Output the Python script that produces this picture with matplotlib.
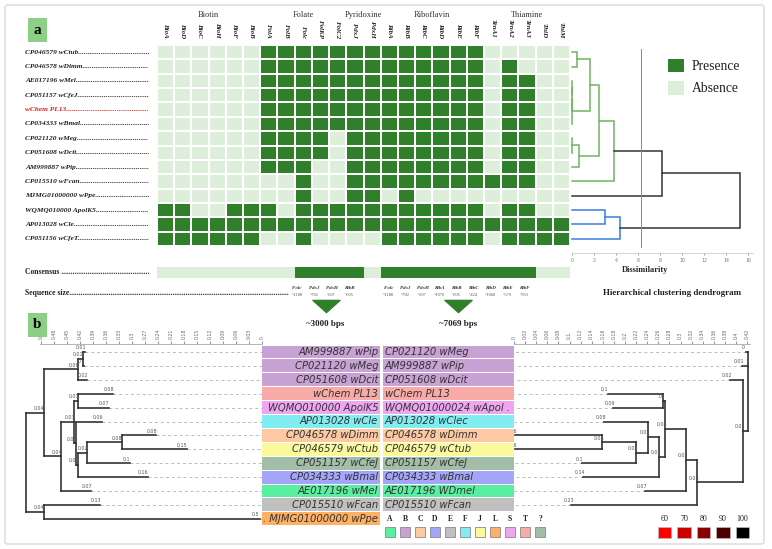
import matplotlib
matplotlib.use("Agg")
import matplotlib.pyplot as plt
import numpy as np
from matplotlib.colors import ListedColormap
from matplotlib.patches import Patch, FancyBboxPatch
from matplotlib.path import Path
import matplotlib.transforms as mtransforms

# ---------------- DATA : panel a ----------------
genes = ["BioA", "BioD", "BioC", "BioH", "BioF", "BioB", "FolA", "FolB", "Folc", "FolKP",
         "FolC2", "PdxJ", "PdxH", "RibA", "RibB", "RibC", "RibD", "RibE", "RibF",
         "TenA1", "TenA2", "TenA3", "ThiD", "ThiM"]
gene_groups = ["Biotin", "Folate", "Pyridoxine", "Riboflavin", "Thiamine"]
group_sizes = [6, 5, 2, 6, 5]
strains = ["CP046579 wCtub", "CP046578 wDimm", "AE017196 wMel", "CP051157 wCfeJ",
           "wChem PL13", "CP034333 wBmal", "CP021120 wMeg", "CP051608 wDcit",
           "AM999887 wPip", "CP015510 wFcan", "MJMG01000000 wPpe",
           "WQMQ010000 ApolK5", "AP013028 wCle", "CP051156 wCfeT"]
presence_rows = [
    "000000" "11111" "11" "111111" "00000",
    "000000" "11111" "11" "111111" "01000",
    "000000" "11111" "11" "111111" "01100",
    "000000" "11111" "11" "111111" "01100",
    "000000" "11111" "11" "111111" "01100",
    "000000" "11111" "11" "111111" "01100",
    "000000" "11110" "11" "111111" "01100",
    "000000" "11110" "11" "111111" "01100",
    "000000" "11100" "11" "111111" "01100",
    "000000" "00100" "11" "111111" "11100",
    "000000" "00100" "11" "010000" "00000",
    "110011" "10111" "11" "111111" "01100",
    "111111" "11111" "11" "111111" "11111",
    "111111" "00100" "00" "111111" "01111",
]
consensus_row = "000000" "00111" "10" "111111" "11100"
seq_genes_1 = ["Folc", "PdxJ", "PdxH", "RibB"]
seq_sizes_1 = ["~1188", "~702", "~607", "~605"]
seq_genes_2 = ["Folc", "PdxJ", "PdxH", "RibA", "RibB", "RibC", "RibD", "RibE", "RibF"]
seq_sizes_2 = ["~1188", "~702", "~607", "~1070", "~605", "~424", "~1068", "~579", "~933"]
block_sizes = ["~3000 bps", "~7069 bps"]
block_centers = [9.8, 17.5]

# hierarchical clustering (leaf ids 0..13 = heatmap rows; new ids from 14)
dendro_merges = [(0, 1, 0.45), (2, 3, 0.0), (15, 4, 0.0), (16, 5, 0.0), (14, 17, 1.67),
                 (6, 7, 0.0), (19, 8, 0.64), (18, 20, 2.48), (21, 9, 3.8), (22, 10, 8.2),
                 (11, 12, 3.0), (24, 13, 4.33), (23, 25, 15.25)]
dendro_colors = ["g"] * 9 + ["k", "b", "b", "k"]
dendro_ticks = [0, 2, 4, 6, 8, 10, 12, 14, 16]
cut_height = 6.3

# ---------------- DATA : panel b ----------------
left_leaves = ["AM999887 wPip", "CP021120 wMeg", "CP051608 wDcit", "wChem PL13",
               "WQMQ010000 ApolK5", "AP013028 wCle", "CP046578 wDimm", "CP046579 wCtub",
               "CP051157 wCfeJ", "CP034333 wBmal", "AE017196 wMel", "CP015510 wFcan",
               ". MJMG01000000 wPpe"]
left_groups = ["B", "B", "B", "T", "S", "F", "C", "J", "?", "D", "A", "E", "L"]
right_leaves = ["CP021120 wMeg", "AM999887 wPip", "CP051608 wDcit", "wChem PL13",
                "WQMQ01000024 wApol .", "AP013028 wClec", "CP046578 wDimm",
                "CP046579 wCtub", "CP051157 wCfeJ", "CP034333 wBmal", "AE017196 WDmel",
                "CP015510 wFcan"]
right_groups = ["B", "B", "B", "T", "S", "F", "C", "J", "?", "D", "A", "E"]
group_letters = ["A", "B", "C", "D", "E", "F", "J", "L", "S", "T", "?"]
group_colors = ["#58f0a0", "#c8a2d4", "#fdc9a2", "#a4a4f8", "#c0c0c0", "#80eef0",
                "#fafa9c", "#ffb062", "#eea6f0", "#f8aaa6", "#a2bea6"]
bootstrap_levels = ["60", "70", "80", "90", "100"]
bootstrap_colors = ["#ff0000", "#cc0000", "#8b0000", "#4a0000", "#000000"]

# trees: leaf = (index, branch length); node = ([children], branch length)
left_tree = ([
    ([([([(0, 0.005), (1, 0.003)], 0.01), (2, 0.02)], 0.08),
      ([([([(3, 0.08), (4, 0.07)], 0.01),
          ([(5, 0.06),
            ([([([(6, 0.08), (7, 0.15)], 0.08), (8, 0.1)], 0.02), (9, 0.16)], 0.005)],
           0.005)], 0.03),
        (10, 0.07)], 0.04)], 0.04),
    ([(11, 0.13), (12, 0.5)], 0.04)], 0.0)
left_root = 0.545
left_ticks = [0.51, 0.48, 0.45, 0.42, 0.39, 0.36, 0.33, 0.30, 0.27, 0.24, 0.21, 0.18,
              0.15, 0.12, 0.09, 0.06, 0.03, 0.0]
left_tick_labels = ["0.5", "0.48", "0.45", "0.42", "0.39", "0.36", "0.33", "0.3", "0.27",
                    "0.24", "0.21", "0.18", "0.15", "0.12", "0.09", "0.06", "0.03", "0"]

right_tree = ([(0, 0.004), (1, 0.011),
               ([(2, 0.023),
                 ([([([([(3, 0.1), (4, 0.09)], 0.003),
                        ([([(5, 0.08),
                            ([([(6, 0.157), (7, 0.157)], 0.061), (8, 0.097)], 0.022)],
                           0.02),
                          (9, 0.138)], 0.01)], 0.038),
                     (10, 0.074)], 0.02),
                   (11, 0.226)], 0.083)], 0.009)], 0.0)
right_root = 0.4216
right_ticks = [round(0.02 * k, 2) for k in range(22)]

# ---------------- FIGURE ----------------
W, H = 772, 549
fig = plt.figure(figsize=(W / 100, H / 100), dpi=100)
SERIF = ["Liberation Serif", "DejaVu Serif"]
SANS = ["DejaVu Sans"]
DARK = "#2f7f2b"
LIGHT = "#ddefda"
GREEN_L = "#70b45f"
BLUE_L = "#3b7de0"
BLACK_L = "#333333"
renderer = fig.canvas.get_renderer()


def box(x0, y0, x1, y1):
    return [x0 / W, 1 - y1 / H, (x1 - x0) / W, (y1 - y0) / H]


def fx(px):
    return px / W


def fy(py):
    return 1 - py / H


def dotted_text(ax, x_px, y, name, end_px, **kw):
    tr = mtransforms.blended_transform_factory(fig.transFigure, ax.transData)
    t = ax.text(fx(x_px), y, name, transform=tr, ha="left", va="center", **kw)
    s = name
    while t.get_window_extent(renderer).x1 < end_px:
        s += "."
        t.set_text(s)
    return t


# outer frame
fig.patches.append(FancyBboxPatch((fx(5), fy(544)), 759 / W, 539 / H,
                                  boxstyle="round,pad=0,rounding_size=0.004",
                                  transform=fig.transFigure, fill=False,
                                  ec="#e2e2e2", lw=1.3))

# ---- heatmap
axh = fig.add_axes(box(157, 45, 570, 246))
M = np.array([[int(c) for c in r] for r in presence_rows])
cm = ListedColormap([LIGHT, DARK])
axh.pcolormesh(np.arange(len(genes) + 1), np.arange(len(strains) + 1), M, cmap=cm,
               vmin=0, vmax=1, edgecolors="white", linewidth=1.1)
axh.set_xlim(0, len(genes))
axh.set_ylim(len(strains), 0)
axh.xaxis.tick_top()
axh.set_xticks(np.arange(len(genes)) + 0.5)
axh.set_xticklabels(genes, rotation=-90, fontsize=5, fontstyle="italic",
                    fontweight="bold", family=SERIF, color="#222")
axh.tick_params(axis="x", length=0, pad=5)
axh.set_yticks([])
for s in axh.spines.values():
    s.set_visible(False)
start = 0
for g, n in zip(gene_groups, group_sizes):
    axh.text(start + n / 2, -2.1, g, ha="center", va="center", fontsize=6,
             family=SERIF, color="#333")
    start += n
for i, name in enumerate(strains):
    dotted_text(axh, 25, i + 0.5, name, 148, fontsize=5.3, fontstyle="italic",
                fontweight="bold", family=SERIF,
                color="#e02020" if name.startswith("wChem") else "#222")

# panel label a
fig.text(fx(37.5), fy(30), "a", ha="center", va="center", fontsize=11,
         fontweight="bold", family=SERIF,
         bbox=dict(boxstyle="square,pad=0.35", fc="#8cd087", ec="none"))

# ---- consensus
axc = fig.add_axes(box(157, 267, 570, 278))
C = np.array([[int(c) for c in consensus_row]])
axc.pcolormesh(np.arange(len(genes) + 1), [0, 1], C, cmap=cm, vmin=0, vmax=1)
axc.set_xlim(0, len(genes))
axc.set_ylim(1, 0)
axc.axis("off")
dotted_text(axc, 25, 0.5, "Consensus ", 148, fontsize=5.5, fontweight="bold",
            family=SERIF, color="#222")
trc = mtransforms.blended_transform_factory(axc.transData, fig.transFigure)
t = fig.text(fx(25), fy(293), "Sequence size", ha="left", va="center", fontsize=5.5,
             fontweight="bold", family=SERIF, color="#222")
s = "Sequence size"
while t.get_window_extent(renderer).x1 < 287:
    s += "."
    t.set_text(s)
for k, (gname, gs) in enumerate(zip(seq_genes_1, seq_sizes_1)):
    axc.text(8.15 + k, fy(288), gname, transform=trc, ha="center", va="center",
             fontsize=3.6, fontstyle="italic", fontweight="bold", family=SERIF, color="#333")
    axc.text(8.15 + k, fy(295.5), gs, transform=trc, ha="center", va="center",
             fontsize=3.2, family=SERIF, color="#555")
for k, (gname, gs) in enumerate(zip(seq_genes_2, seq_sizes_2)):
    axc.text(13.45 + 0.99 * k, fy(288), gname, transform=trc, ha="center", va="center",
             fontsize=3.6, fontstyle="italic", fontweight="bold", family=SERIF, color="#333")
    axc.text(13.45 + 0.99 * k, fy(295.5), gs, transform=trc, ha="center", va="center",
             fontsize=3.2, family=SERIF, color="#555")
tri = Path([(-1, 0.45), (1, 0.45), (0, -0.45), (-1, 0.45)],
           [Path.MOVETO, Path.LINETO, Path.LINETO, Path.CLOSEPOLY])
for xc, lab in zip(block_centers, block_sizes):
    axc.plot([xc], [fy(306)], marker=tri, ms=19.5, color=DARK, mec=DARK,
             transform=trc, clip_on=False)
    axc.text(xc, fy(324), lab, transform=trc, ha="center", va="center", fontsize=6.5,
             fontweight="bold", family=SERIF, color="#222")

# ---- dendrogram
axd = fig.add_axes(box(572, 45, 753, 253))
nleaf = len(strains)
pos = {i: (i + 0.5, 0.0) for i in range(nleaf)}
cmap_lines = {"g": GREEN_L, "b": BLUE_L, "k": BLACK_L}
for k, ((a, b, h), c) in enumerate(zip(dendro_merges, dendro_colors)):
    ya, ha = pos[a]
    yb, hb = pos[b]
    axd.plot([ha, h, h, hb], [ya, ya, yb, yb], color=cmap_lines[c], lw=1.1,
             solid_joinstyle="miter", clip_on=False)
    pos[nleaf + k] = ((ya + yb) / 2, h)
axd.axvline(cut_height, ymin=0.03, ymax=0.98, color="#888", lw=0.7)
axd.set_xlim(0, 16.45)
axd.set_ylim(nleaf + 0.49, 0)
axd.set_yticks([])
axd.set_xticks(dendro_ticks)
axd.tick_params(axis="x", labelsize=3.3, length=1.5, width=0.5, colors="#777", pad=2)
for sname in ["top", "right", "left"]:
    axd.spines[sname].set_visible(False)
axd.spines["bottom"].set_color("#cccccc")
axd.spines["bottom"].set_linewidth(0.6)
fig.text(fx(645), fy(269.5), "Dissimilarity", ha="center", va="center", fontsize=6,
         fontweight="bold", family=SERIF, color="#222")
fig.text(fx(672), fy(293), "Hierarchical clustering dendrogram", ha="center",
         va="center", fontsize=6.5, fontweight="bold", family=SERIF, color="#222")
fig.legend(handles=[Patch(fc=DARK, ec="none", label="Presence"),
                    Patch(fc=LIGHT, ec="none", label="Absence")],
           loc="upper left", bbox_to_anchor=(fx(658), fy(49)), frameon=False,
           prop={"family": SERIF, "size": 9.8}, handlelength=1.2, handleheight=1.2,
           labelspacing=0.55, handletextpad=0.6, borderpad=0.2, labelcolor="#222")

# ---------------- panel b ----------------
ROW0, ROWS = 352.0, 13.9
YT, YB = 344, 526
ylim_b = ((YB - ROW0) / ROWS, (YT - ROW0) / ROWS)

fig.text(fx(37.5), fy(325), "b", ha="center", va="center", fontsize=11,
         fontweight="bold", family=SERIF,
         bbox=dict(boxstyle="square,pad=0.35", fc="#8cd087", ec="none"))


def draw_tree(ax, node, parent_depth, root_val, label_dx):
    children, bl = node
    depth = parent_depth + bl
    x = root_val - depth
    xp = root_val - parent_depth
    if isinstance(children, list):
        ys = [draw_tree(ax, ch, depth, root_val, label_dx) for ch in children]
        y = (ys[0] + ys[-1]) / 2
        ax.plot([x, x], [ys[0], ys[-1]], color=BLACK_L, lw=1.2,
                solid_capstyle="projecting", clip_on=False)
    else:
        y = children
        ax.plot([x, 0], [y, y], color="#bbbbbb", lw=0.7, ls=(0, (3, 3)), clip_on=False)
    if bl > 0 or parent_depth > 0:
        ax.plot([xp, x], [y, y], color=BLACK_L, lw=1.2, solid_capstyle="projecting",
                clip_on=False)
        ax.annotate(f"{round(bl, 2):g}", (x, y), xytext=(label_dx, 1.2),
                    textcoords="offset points", ha="center", va="bottom",
                    fontsize=3.4, color="#555")
    return y


def tree_axis(ax, ticks, labels):
    ax.set_ylim(*ylim_b)
    ax.xaxis.tick_top()
    ax.set_xticks(ticks)
    ax.set_xticklabels(labels, rotation=90, fontsize=3.3, color="#666")
    ax.tick_params(axis="x", length=2, width=0.6, color="#6a7cff", pad=1.5)
    ax.set_yticks([])
    for sname in ["bottom", "right", "left"]:
        ax.spines[sname].set_visible(False)
    ax.spines["top"].set_color("#aaaaaa")
    ax.spines["top"].set_linewidth(0.6)


axl = fig.add_axes(box(40, YT, 262.3, YB))
draw_tree(axl, left_tree, 0.0, left_root, -3)
axl.set_xlim((262.3 - 40) / 433.0, 0)
tree_axis(axl, left_ticks, left_tick_labels)

axr = fig.add_axes(box(514, YT, 750, YB))
draw_tree(axr, right_tree, 0.0, right_root, -2)
axr.set_xlim(0, 236 / 555.0)
tree_axis(axr, right_ticks, [f"{v:g}" for v in right_ticks])

gcol = dict(zip(group_letters, group_colors))
for (x0, x1, leaves, groups, side) in [(262.3, 380, left_leaves, left_groups, "right"),
                                       (383, 514, right_leaves, right_groups, "left")]:
    axb = fig.add_axes(box(x0, YT, x1, YB))
    axb.barh(np.arange(len(leaves)), 1, height=0.93, left=0,
             color=[gcol[g] for g in groups])
    for i, name in enumerate(leaves):
        axb.text(0.985 if side == "right" else 0.015, i, name, ha=side, va="center",
                 fontsize=7.2, fontstyle="italic", family=SANS, color="#333")
    axb.set_xlim(0, 1)
    axb.set_ylim(*ylim_b)
    axb.axis("off")

# group legend
axg = fig.add_axes(box(382.5, 512, 547.5, 540))
axg.bar(np.arange(len(group_letters)), 10 / 28, bottom=15 / 28, width=0.667,
        color=group_colors, edgecolor="#8a8a8a", linewidth=0.6)
for i, L in enumerate(group_letters):
    axg.text(i, 7 / 28, L, ha="center", va="center", fontsize=5.5, fontweight="bold",
             family=SERIF, color="#222")
axg.set_xlim(-0.5, len(group_letters) - 0.5)
axg.set_ylim(1, 0)
axg.axis("off")

axs = fig.add_axes(box(654.75, 512, 752.25, 540))
axs.bar(np.arange(len(bootstrap_levels)), 10.5 / 28, bottom=15 / 28, width=0.667,
        color=bootstrap_colors, edgecolor="#bbbbbb", linewidth=0.5)
for i, L in enumerate(bootstrap_levels):
    axs.text(i, 7 / 28, L, ha="center", va="center", fontsize=5.8, family=SERIF,
             color="#222")
axs.set_xlim(-0.5, len(bootstrap_levels) - 0.5)
axs.set_ylim(1, 0)
axs.axis("off")

fig.savefig("out.png", dpi=100)
